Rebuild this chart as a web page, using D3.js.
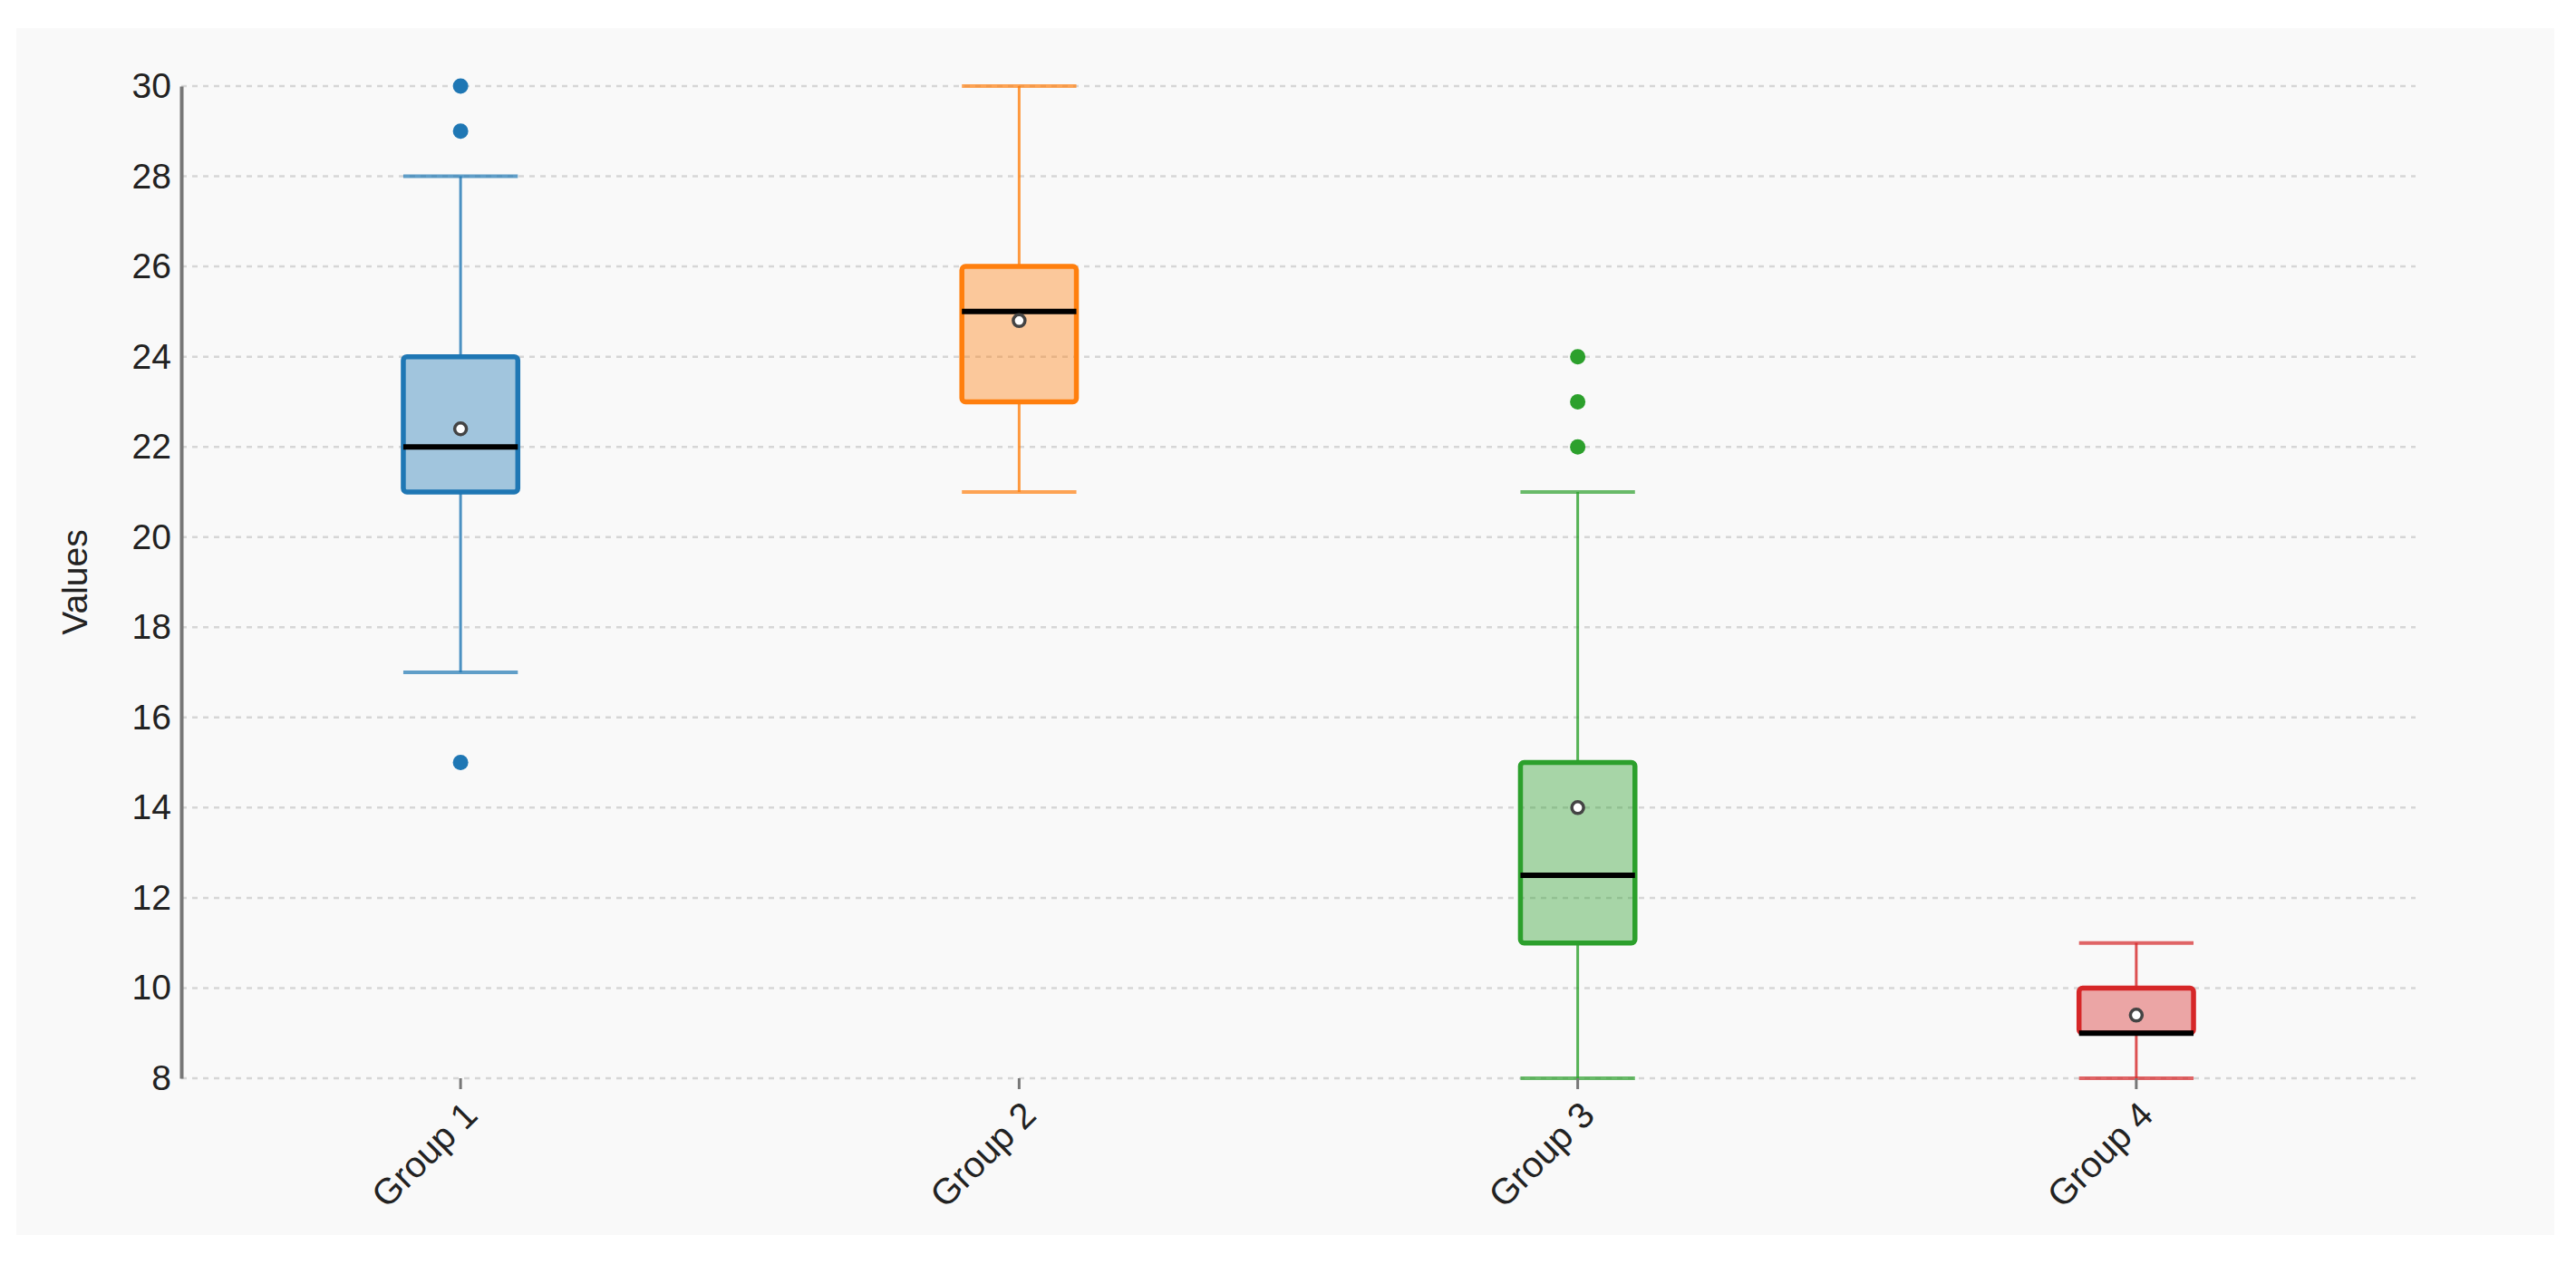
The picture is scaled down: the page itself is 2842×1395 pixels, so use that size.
<!DOCTYPE html>
<html>
<head>
<meta charset="utf-8">
<script src="https://cdn.jsdelivr.net/npm/d3@7/dist/d3.min.js"></script>
<style>
  html, body { margin: 0; padding: 0; background: #ffffff; }
  svg { display: block; font-family: "Liberation Sans", Arial, sans-serif; }
</style>
</head>
<body>
<svg id="chart" width="2842" height="1395"></svg>
<script>
const categories = ["Group 1", "Group 2", "Group 3", "Group 4"];
const colors = ["#1f77b4", "#ff7f0e", "#2ca02c", "#d62728"];
const whiskerLow = [17, 21, 8, 8];
const q1 = [21, 23, 11, 9];
const medians = [22, 25, 12.5, 9];
const q3 = [24, 26, 15, 10];
const whiskerHigh = [28, 30, 21, 11];
const means = [22.4, 24.8, 14, 9.4];
const outliers = [[15, 29, 30], [], [22, 23, 24], []];
const yTicks = [8, 10, 12, 14, 16, 18, 20, 22, 24, 26, 28, 30];
const yLabel = "Values";

const svg = d3.select("#chart");
const W = 2842, H = 1395;
const margin = { left: 200, right: 177, top: 95, bottom: 205 };

svg.append("rect").attr("x", 18).attr("y", 31).attr("width", 2800).attr("height", 1332)
  .attr("fill", "#f9f9f9");

const x = d3.scaleBand().domain(categories).range([margin.left, W - margin.right]).padding(0);
const y = d3.scaleLinear().domain([8, 30]).range([H - margin.bottom, margin.top]);

const g = svg.append("g");

// gridlines
g.append("g").selectAll("line").data(yTicks).join("line")
  .attr("x1", margin.left).attr("x2", W - margin.right)
  .attr("y1", d => y(d)).attr("y2", d => y(d))
  .attr("stroke", "#d6d6d6").attr("stroke-width", 2.5).attr("stroke-dasharray", "6,6");

const data = categories.map((c, i) => ({
  c, color: colors[i], lo: whiskerLow[i], q1: q1[i], med: medians[i], q3: q3[i],
  hi: whiskerHigh[i], mean: means[i], out: outliers[i]
}));

const boxW = x.bandwidth() * 0.205;
const groups = g.selectAll("g.box").data(data).join("g").attr("class", "box")
  .attr("transform", d => `translate(${x(d.c) + x.bandwidth() / 2},0)`);

// whiskers
groups.append("line").attr("x1", 0).attr("x2", 0)
  .attr("y1", d => y(d.hi)).attr("y2", d => y(d.q3))
  .attr("stroke", d => d.color).attr("stroke-width", 3).attr("stroke-opacity", 0.8);
groups.append("line").attr("x1", 0).attr("x2", 0)
  .attr("y1", d => y(d.q1)).attr("y2", d => y(d.lo))
  .attr("stroke", d => d.color).attr("stroke-width", 3).attr("stroke-opacity", 0.8);
// caps
groups.selectAll("line.cap").data(d => [d.lo, d.hi].map(v => ({ v, color: d.color }))).join("line")
  .attr("class", "cap")
  .attr("x1", -boxW / 2).attr("x2", boxW / 2)
  .attr("y1", d => y(d.v)).attr("y2", d => y(d.v))
  .attr("stroke", d => d.color).attr("stroke-width", 4).attr("stroke-opacity", 0.7);

// box
groups.append("rect")
  .attr("x", -boxW / 2).attr("width", boxW)
  .attr("y", d => y(d.q3)).attr("height", d => y(d.q1) - y(d.q3))
  .attr("rx", 4).attr("ry", 4)
  .attr("fill", d => d.color).attr("fill-opacity", 0.4)
  .attr("stroke", d => d.color).attr("stroke-width", 5.5);

// median
groups.append("line")
  .attr("x1", -boxW / 2).attr("x2", boxW / 2)
  .attr("y1", d => y(d.med)).attr("y2", d => y(d.med))
  .attr("stroke", "#000").attr("stroke-width", 6);

// mean
groups.append("circle").attr("cx", 0).attr("cy", d => y(d.mean)).attr("r", 6.5)
  .attr("fill", "#fff").attr("stroke", "#444").attr("stroke-width", 3.5);

// outliers
groups.selectAll("circle.out").data(d => d.out.map(v => ({ v, color: d.color }))).join("circle")
  .attr("class", "out").attr("cx", 0).attr("cy", d => y(d.v)).attr("r", 8.5)
  .attr("fill", d => d.color);

// y axis
const yAxis = g.append("g").attr("transform", `translate(${margin.left},0)`)
  .call(d3.axisLeft(y).tickValues(yTicks).tickSize(0).tickPadding(11).tickFormat(d3.format("d")));
yAxis.select(".domain").attr("stroke", "#777").attr("stroke-width", 4);
yAxis.selectAll("text").attr("font-size", 39).attr("fill", "#222")
  .attr("font-family", "Liberation Sans, Arial, sans-serif");

// x axis
const xAxis = g.append("g").attr("transform", `translate(0,${H - margin.bottom})`)
  .call(d3.axisBottom(x).tickSize(12).tickPadding(10));
xAxis.select(".domain").remove();
xAxis.selectAll(".tick line").attr("stroke", "#777").attr("stroke-width", 3);
xAxis.selectAll("text").attr("font-size", 40).attr("fill", "#222")
  .attr("font-family", "Liberation Sans, Arial, sans-serif")
  .attr("text-anchor", "end")
  .attr("transform", "translate(11,33) rotate(-45)")
  .attr("dy", "0.35em").attr("dx", "0").attr("y", 0).attr("x", 0);

// y label
svg.append("text").attr("transform", "rotate(-90)")
  .attr("x", -(y(8) + y(30)) / 2).attr("y", 82).attr("dy", "0.35em")
  .attr("text-anchor", "middle")
  .attr("font-size", 39).attr("fill", "#222").text(yLabel);
</script>
</body>
</html>
